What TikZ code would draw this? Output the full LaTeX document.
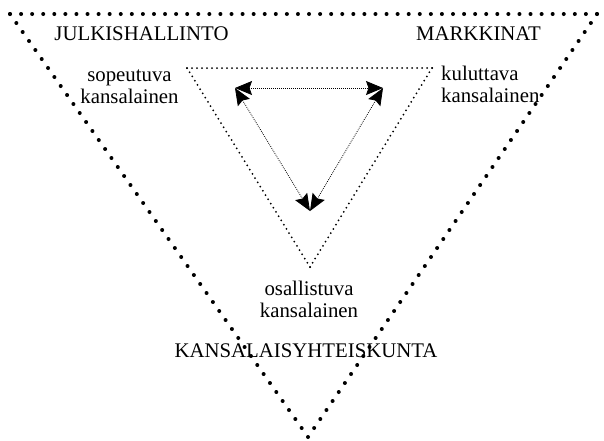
\documentclass[tikz,border=0pt]{standalone}
\usepackage{fontspec}
\setmainfont{Liberation Serif}
\usetikzlibrary{arrows.meta}
\begin{document}
\begin{tikzpicture}[x=1pt,y=-1pt,
  lbl/.style={font=\rmfamily\fontsize{20.8}{21.5}\selectfont, inner sep=0pt, anchor=base},
  outerdots/.style={line width=4pt, line cap=round},
  innerdots/.style={line width=2pt, line cap=round},
  link/.style={line width=0.8pt, dash pattern=on 0.8pt off 1.2pt,
    {Stealth[length=17pt,width=14pt,inset=2.5pt]}-{Stealth[length=17pt,width=14pt,inset=2.5pt]}}
]
\fill[white] (0,0) rectangle (604,440);
\useasboundingbox (0,0) rectangle (604,440);
% outer triangle
\coordinate (A) at (10,14);
\coordinate (B) at (597,14);
\coordinate (C) at (308,437);
\draw[outerdots, dash pattern=on 0pt off 11.075pt] (A) -- (B);
\draw[outerdots, dash pattern=on 0pt off 10.9pt] (B) -- (C);
\draw[outerdots, dash pattern=on 0pt off 11.009pt] (C) -- (A);
% inner triangle
\coordinate (D) at (187,68);
\coordinate (E) at (432,68);
\coordinate (F) at (310,267);
\draw[innerdots, dash pattern=on 0pt off 5pt] (D) -- (E);
\draw[innerdots, dash pattern=on 0pt off 4.966pt] (E) -- (F);
\draw[innerdots, dash pattern=on 0pt off 4.977pt] (F) -- (D);
% arrows
\coordinate (pa) at (235,88);
\coordinate (pb) at (383,88);
\coordinate (pc) at (310,211);
\draw[link] (pa) -- (pb);
\draw[link] (pa) -- (pc);
\draw[link] (pb) -- (pc);
% labels
\node[lbl] (julk) at (141.5,40) {JULKISHALLINTO};
\node[lbl] (mark) at (478.5,40) {MARKKINAT};
\node[lbl, align=center] (sop) at (129.5,103) {sopeutuva\\kansalainen};
\node[lbl, anchor=base west, align=left] (kul) at (441,102) {kuluttava\\kansalainen};
\node[lbl, align=center] (osa) at (309,317) {osallistuva\\kansalainen};
\node[lbl] (kyht) at (306,357) {KANSALAISYHTEISKUNTA};
\end{tikzpicture}
\end{document}
